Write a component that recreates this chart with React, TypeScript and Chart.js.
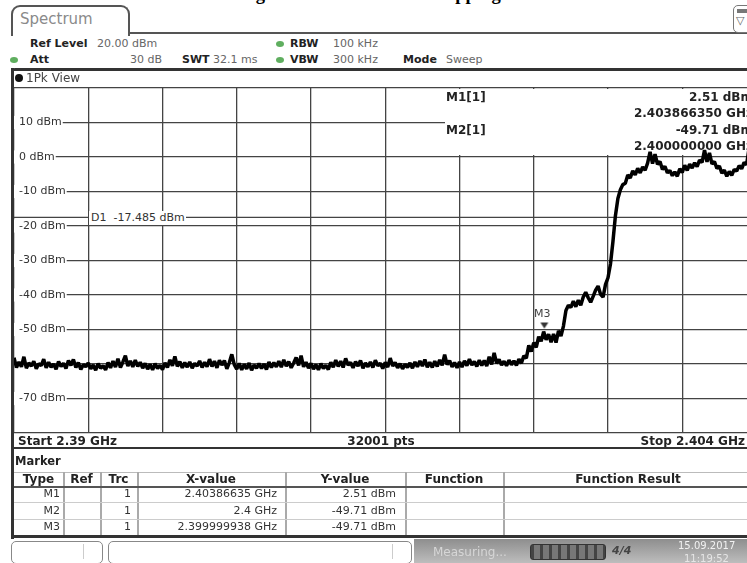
import React, { useEffect, useRef } from 'react';
import { Chart, registerables } from 'chart.js';

Chart.register(...registerables);

const FONT = '"DejaVu Sans", Verdana, sans-serif';

// ---- sweep / axes ----
const START_GHZ = 2.39;
const STOP_GHZ = 2.404;
const X_GRID_GHZ = [2.39, 2.3914, 2.3928, 2.3942, 2.3956, 2.397, 2.3984, 2.3998, 2.4012, 2.4026, 2.404];
const Y_MIN_DBM = -80;
const Y_MAX_DBM = 20;
const Y_STEP_DBM = 10;
const Y_LABELED_DBM = [10, 0, -10, -20, -30, -40, -50, -70];
const D1_DBM = -17.485;
const M3_GHZ = 2.399999938;
const M3_DBM = -49.71;

// ---- trace (evenly spaced from start to stop) ----
const TRACE_DBM = [
  -58.2, -61.0, -59.4, -60.8, -57.9, -61.2, -59.7, -60.6, -59.2, -61.4,
  -59.9, -60.5, -58.6, -61.1, -59.5, -60.9, -60.0, -61.5, -59.3, -60.7,
  -59.8, -61.3, -59.0, -60.4, -58.7, -61.0, -59.6, -61.6, -60.2, -60.8,
  -59.7, -61.4, -60.3, -61.8, -59.9, -61.2, -60.5, -61.7, -59.6, -61.1,
  -59.2, -60.9, -58.5, -61.0, -59.4, -57.6, -60.6, -59.1, -60.8, -58.9,
  -60.7, -59.5, -61.2, -59.8, -61.5, -60.1, -61.7, -59.9, -61.3, -60.4,
  -61.6, -59.7, -61.0, -58.8, -60.5, -57.8, -60.7, -59.3, -61.1, -59.6,
  -60.9, -59.4, -61.2, -59.8, -60.6, -59.1, -61.0, -59.5, -60.8, -58.6,
  -60.7, -59.2, -61.1, -58.9, -60.3, -59.0, -61.4, -59.6, -57.2, -60.2,
  -61.5, -59.8, -61.7, -60.1, -61.4, -59.7, -61.8, -60.3, -61.2, -59.9,
  -61.3, -60.0, -61.6, -59.4, -61.0, -59.6, -60.8, -59.2, -60.9, -58.8,
  -60.6, -59.3, -61.1, -59.7, -58.1, -60.4, -57.6, -60.8, -59.5, -61.2,
  -59.8, -61.5, -60.2, -61.7, -59.9, -61.3, -60.4, -61.6, -59.5, -60.9,
  -58.9, -60.7, -59.2, -61.0, -58.4, -60.3, -59.6, -61.1, -59.3, -60.6,
  -59.0, -61.2, -59.7, -60.8, -59.4, -61.0, -58.9, -60.5, -59.8, -61.3,
  -59.5, -60.9, -58.3, -60.6, -59.6, -61.1, -59.9, -61.4, -60.1, -61.0,
  -59.7, -61.2, -59.4, -60.8, -59.1, -60.6, -58.7, -60.9, -59.5, -61.0,
  -59.2, -60.7, -58.8, -60.4, -57.3, -60.2, -59.0, -60.8, -59.6, -61.1,
  -59.4, -60.9, -59.1, -60.5, -58.6, -60.3, -59.3, -60.7, -58.9, -60.4,
  -59.0, -60.6, -57.9, -60.1, -56.8, -59.8, -58.7, -60.3, -59.2, -60.5,
  -58.9, -60.2, -59.1, -60.4, -58.6, -59.8,
  -57.6, -58.3, -54.6, -56.4, -53.8, -55.2, -52.1, -53.4, -50.6, -53.0,
  -51.4, -53.7, -51.3, -53.8, -50.4, -51.9, -49.0, -44.5, -43.0, -43.6,
  -41.8, -43.4, -41.5, -43.0, -40.6, -39.2, -40.8, -42.1, -40.4, -38.6,
  -37.4, -39.8, -40.6, -36.9, -35.0,
  -31.0, -24.5, -17.0, -12.0, -9.5,
  -8.0, -7.6, -5.2, -6.1, -4.0, -5.2, -3.3, -4.6, -2.9, -3.8,
  -1.8, 1.5, -1.9, 0.8, -2.1, -1.3, -3.6, -2.7, -4.6, -3.9,
  -5.4, -4.3, -5.6, -3.4, -4.5, -2.4, -3.9, -2.1, -3.2, -1.7,
  -2.8, -0.9, -1.6, 2.0, -1.4, 1.2, -2.0, -1.3, -3.3, -2.6,
  -4.7, -3.8, -5.6, -4.2, -5.3, -3.6, -4.1, -2.5, -3.4, -1.6,
  -2.2, 2.5, -0.6, -1.9, -1.2,
];

// ---- marker table ----
const TABLE_HEADERS = ['Type', 'Ref', 'Trc', 'X-value', 'Y-value', 'Function', 'Function Result'];
const MARKER_TYPE = ['M1', 'M2', 'M3'];
const MARKER_TRC = ['1', '1', '1'];
const MARKER_XVALUE = ['2.40386635 GHz', '2.4 GHz', '2.399999938 GHz'];
const MARKER_YVALUE = ['2.51 dBm', '-49.71 dBm', '-49.71 dBm'];

// ---- marker info (top right) ----
const INFO_LABELS = ['M1[1]', 'M2[1]'];
const INFO_LEVELS = ['2.51 dBm', '-49.71 dBm'];
const INFO_FREQS = ['2.403866350 GHz', '2.400000000 GHz'];

type TxtProps = {
  x: number; cy: number; align?: 'left' | 'right' | 'center'; size?: number; bold?: boolean;
  color?: string; bg?: string; children: React.ReactNode; style?: React.CSSProperties;
};

function Txt({ x, cy, align = 'left', size = 11, bold = false, color = '#222', bg, children, style }: TxtProps) {
  const lh = 14;
  const s: React.CSSProperties = {
    position: 'absolute', top: cy - lh / 2, lineHeight: lh + 'px', fontSize: size,
    fontWeight: bold ? 'bold' : 'normal', color, whiteSpace: 'nowrap', fontFamily: FONT,
  };
  if (align === 'left') { s.left = x; }
  else if (align === 'right') { s.left = x - 400; s.width = 400; s.textAlign = 'right'; }
  else { s.left = x - 200; s.width = 400; s.textAlign = 'center'; }
  if (bg) s.background = bg;
  return <div style={{ ...s, ...style }}>{children}</div>;
}

function Rect(props: React.CSSProperties) {
  return <div style={{ position: 'absolute', ...props }} />;
}

function Dot({ x, y, color }: { x: number; y: number; color: string }) {
  return <Rect left={x - 4} top={y - 3} width={8} height={6} borderRadius="50%" background={color} />;
}

export default function App() {
  const ref = useRef<HTMLCanvasElement | null>(null);

  useEffect(() => {
    const canvas = ref.current;
    if (!canvas) return;
    const step = (STOP_GHZ - START_GHZ) / (TRACE_DBM.length - 1);
    const trace = TRACE_DBM.map((y, i) => ({ x: START_GHZ + i * step, y }));

    // downward marker triangle whose apex sits at the image centre
    const tri = document.createElement('canvas');
    tri.width = 10; tri.height = 18;
    const tc = tri.getContext('2d');
    if (tc) {
      tc.fillStyle = '#333';
      tc.beginPath(); tc.moveTo(1, 3); tc.lineTo(9, 3); tc.lineTo(5, 9); tc.closePath(); tc.fill();
    }

    const markerBox = {
      id: 'markerBox',
      beforeDatasetsDraw(chart: any) {
        const { ctx, chartArea } = chart;
        ctx.save();
        ctx.fillStyle = '#ffffff';
        ctx.fillRect(chartArea.left + 431, chartArea.top + 1, chartArea.right - chartArea.left, 66);
        ctx.restore();
      },
    };

    const gridStyle = { color: '#444', lineWidth: 1.3, drawTicks: false };

    const chart = new Chart(canvas, {
      type: 'line',
      data: {
        datasets: [
          {
            label: 'M3', data: [{ x: M3_GHZ, y: M3_DBM }], showLine: false,
            pointStyle: tri as any, pointRadius: 5, borderWidth: 0,
          } as any,
          {
            label: 'Trace', data: trace, borderColor: '#000', borderWidth: 3.5,
            pointRadius: 0, tension: 0, fill: false, borderJoinStyle: 'bevel',
          },
          {
            label: 'D1', data: [{ x: START_GHZ, y: D1_DBM }, { x: STOP_GHZ, y: D1_DBM }],
            borderColor: '#444', borderWidth: 1.2, pointRadius: 0,
          },
        ],
      },
      options: {
        responsive: false,
        animation: false,
        events: [],
        layout: { padding: { left: 4, top: 88, right: 13.5, bottom: 130 } },
        plugins: { legend: { display: false }, tooltip: { enabled: false } },
        scales: {
          x: {
            type: 'linear', min: START_GHZ, max: STOP_GHZ,
            afterBuildTicks: (s: any) => { s.ticks = X_GRID_GHZ.map((v) => ({ value: v })); },
            ticks: { display: false },
            grid: gridStyle,
            border: { display: false },
          },
          y: {
            type: 'linear', min: Y_MIN_DBM, max: Y_MAX_DBM,
            ticks: {
              stepSize: Y_STEP_DBM,
              mirror: true,
              padding: 5,
              color: '#333',
              font: { family: 'DejaVu Sans', size: 11 },
              showLabelBackdrop: true,
              backdropColor: (c: any) => (Y_LABELED_DBM.includes(c.tick.value) ? '#ffffff' : 'rgba(0,0,0,0)'),
              backdropPadding: { left: 5, right: 1, top: 0, bottom: 0 },
              callback: (v: any) => (Y_LABELED_DBM.includes(Number(v)) ? `${v} dBm` : ''),
            } as any,
            grid: gridStyle,
            border: { display: false },
          },
        },
      } as any,
      plugins: [markerBox],
    });
    return () => chart.destroy();
  }, []);

  const COLS = [14, 63, 100, 137, 285, 405, 503, 753];
  const ROW_CY = [494, 511, 527];

  return (
    <div style={{ position: 'fixed', left: 0, top: 0, width: 747, height: 563, overflow: 'hidden', background: '#fff', fontFamily: FONT }}>
      {/* caption (mostly cropped) */}
      <div style={{ position: 'absolute', left: 186, top: -16, font: 'bold 18.6px "Liberation Serif", serif', lineHeight: '20px', whiteSpace: 'nowrap', color: '#000' }}>
        Band Edge Measurement with Hopping
      </div>

      {/* tab */}
      <Rect left={11} top={5} width={115} height={29} border="2px solid #555" borderBottom="none" borderRadius="9px 9px 0 0" />
      <Rect left={128} top={32} width={640} height={2} background="#555" />
      <Txt x={20} cy={19} size={15} color="#8a8a8a">Spectrum</Txt>
      <Rect left={733} top={5} width={20} height={26} border="1.5px solid #777" borderRadius={5} />
      <Rect left={737} top={9} width={10} height={4} background="#777" />
      <Txt x={736} cy={21} size={11} color="#666">▽</Txt>

      {/* settings rows */}
      <Txt x={30} cy={44} bold>Ref Level</Txt>
      <Txt x={97} cy={44} color="#666">20.00 dBm</Txt>
      <Dot x={280} y={44} color="#5fae5f" />
      <Txt x={290} cy={44} bold>RBW</Txt>
      <Txt x={333} cy={44} color="#666">100 kHz</Txt>

      <Dot x={14} y={60} color="#5fae5f" />
      <Txt x={30} cy={60} bold>Att</Txt>
      <Txt x={162} cy={60} align="right" color="#666">30 dB</Txt>
      <Txt x={182} cy={60} bold>SWT</Txt>
      <Txt x={213} cy={60} color="#666">32.1 ms</Txt>
      <Dot x={280} y={60} color="#5fae5f" />
      <Txt x={290} cy={60} bold>VBW</Txt>
      <Txt x={333} cy={60} color="#666">300 kHz</Txt>
      <Txt x={403} cy={60} bold>Mode</Txt>
      <Txt x={446} cy={60} color="#666">Sweep</Txt>

      {/* chart */}
      <canvas ref={ref} width={770} height={563} style={{ position: 'absolute', left: 0, top: 0, width: 770, height: 563 }} />

      {/* view panel frame */}
      <Rect left={12} top={68} width={740} height={3} background="#333" borderTopLeftRadius={4} />
      <Rect left={11} top={68} width={3} height={471} background="#333" />
      <Rect left={15} top={74} width={8} height={8} borderRadius="50%" background="#111" />
      <Txt x={26} cy={78} size={12} color="#444">1Pk View</Txt>

      {/* chart annotations */}
      <Txt x={89} cy={218} color="#333" bg="#fff" style={{ paddingLeft: 2, paddingRight: 1 }}>D1&nbsp;&nbsp;-17.485 dBm</Txt>
      <Txt x={534} cy={314} color="#444">M3</Txt>
      {INFO_LABELS.map((l, i) => (
        <Txt key={'il' + i} x={446} cy={97 + i * 33} size={12} bold color="#222">{l}</Txt>
      ))}
      {INFO_LEVELS.map((l, i) => (
        <Txt key={'iv' + i} x={753} cy={97 + i * 33} align="right" size={12} bold color="#222">{l}</Txt>
      ))}
      {INFO_FREQS.map((l, i) => (
        <Txt key={'if' + i} x={753} cy={113 + i * 33} align="right" size={12} bold color="#222">{l}</Txt>
      ))}

      {/* bottom bar of the diagram */}
      <Txt x={18} cy={441} size={12} bold>Start 2.39 GHz</Txt>
      <Txt x={381} cy={441} align="center" size={12} bold>32001 pts</Txt>
      <Txt x={745} cy={441} align="right" size={12} bold>Stop 2.404 GHz</Txt>
      <Rect left={12} top={447} width={740} height={2} background="#333" />

      {/* marker table */}
      <Txt x={15} cy={461} size={11.5} bold color="#222">Marker</Txt>
      <Rect left={14} top={472} width={740} height={1} background="#bbb" />
      {COLS.slice(1, -1).map((c, i) => (
        <Rect key={'cs' + i} left={c} top={472} width={1.5} height={63} background="#aaa" />
      ))}
      {TABLE_HEADERS.map((h, i) => (
        <Txt key={'th' + i} x={(COLS[i] + COLS[i + 1]) / 2} cy={479} align="center" size={12} bold color="#222">{h}</Txt>
      ))}
      <Rect left={14} top={486} width={740} height={2} background="#555" />
      <Rect left={14} top={502} width={740} height={1} background="#ccc" />
      <Rect left={14} top={519} width={740} height={1} background="#ccc" />
      {MARKER_TYPE.map((t, i) => (
        <Txt key={'mt' + i} x={60} cy={ROW_CY[i]} align="right" color="#333">{t}</Txt>
      ))}
      {MARKER_TRC.map((t, i) => (
        <Txt key={'mr' + i} x={131} cy={ROW_CY[i]} align="right" color="#333">{t}</Txt>
      ))}
      {MARKER_XVALUE.map((t, i) => (
        <Txt key={'mx' + i} x={277} cy={ROW_CY[i]} align="right" color="#333">{t}</Txt>
      ))}
      {MARKER_YVALUE.map((t, i) => (
        <Txt key={'my' + i} x={396} cy={ROW_CY[i]} align="right" color="#333">{t}</Txt>
      ))}
      <Rect left={11} top={535} width={745} height={3} background="#333" />

      {/* status bar */}
      <Rect left={11} top={541} width={90} height={21} border="1px solid #888" borderRadius={5} />
      <Rect left={83} top={544} width={1} height={15} background="#ccc" />
      <Rect left={108} top={541} width={302} height={21} border="1px solid #888" borderRadius={5} />
      <Rect left={392} top={544} width={1} height={15} background="#ccc" />
      <Rect left={414} top={539} width={340} height={24} background="linear-gradient(#8e8e8e, #bdbdbd)" />
      <Txt x={433} cy={552} size={12} color="#d6d6d6">Measuring...</Txt>
      <Rect left={530} top={544} width={74} height={14} borderRadius={3} background="repeating-linear-gradient(90deg, #444 0px, #444 3px, #777 3px, #777 9px)" border="1px solid #333" />
      <Txt x={612} cy={551} size={11} bold color="#444" style={{ fontStyle: 'italic' }}>4/4</Txt>
      <Txt x={678} cy={546} size={10} color="#f2f2f2">15.09.2017</Txt>
      <Txt x={684} cy={559} size={10} color="#e6e6e6">11:19:52</Txt>
    </div>
  );
}
